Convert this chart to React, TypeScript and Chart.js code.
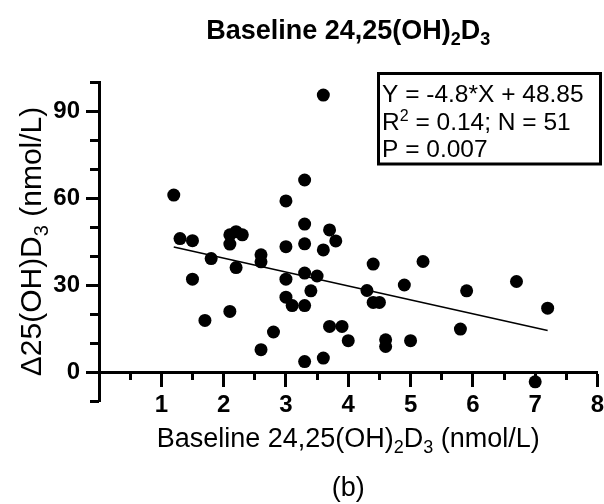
import React, { useEffect, useRef } from "react";
import { Chart, registerables } from "chart.js";

Chart.register(...registerables);

// ---- Data ----
const xValues = [
  1.2, 1.3, 1.5, 1.5, 1.7, 1.8, 2.1, 2.2, 2.3, 2.1, 2.1, 2.2, 2.6, 2.6, 2.6, 2.8,
  3.0, 3.0, 3.0, 3.0, 3.1, 3.3, 3.3, 3.3, 3.3, 3.3, 3.3, 3.4, 3.5, 3.6, 3.6, 3.6,
  3.7, 3.8, 3.7, 3.9, 4.0, 4.3, 4.4, 4.4, 4.5, 4.6, 4.6, 4.9, 5.0, 5.2, 5.8, 5.9,
  6.7, 7.0, 7.2,
];
const yValues = [
  61, 46, 45.3, 32, 17.8, 39.1, 47.3, 48.4, 47.3, 44.1, 20.9, 36, 40.4, 38, 7.7, 13.8,
  59, 43.2, 32, 25.8, 22.9, 66.2, 51, 44.2, 34.1, 22.9, 3.6, 28, 33.1, 95.5, 42.1, 4.8,
  49, 45.2, 15.7, 15.7, 10.8, 28.1, 37.2, 24, 24, 11.1, 8.8, 30, 10.8, 38.1, 14.8, 28,
  31.2, -3.4, 22,
];
const fitX = [1.2, 7.2];
const fitY = [43.1, 14.3];

const xMajorTicks = [1, 2, 3, 4, 5, 6, 7, 8];
const xMinorTicks = [0.5, 1.5, 2.5, 3.5, 4.5, 5.5, 6.5, 7.5];
const yMajorTicks = [0, 30, 60, 90];
const yMinorTicks = [-10, 10, 20, 40, 50, 70, 80, 100];

const FONT = '"Liberation Sans", Arial, sans-serif';

type Run = { t: string; size: number; weight?: string; dy?: number };

const titleRuns: Run[] = [
  { t: "Baseline 24,25(OH)", size: 27, weight: "bold" },
  { t: "2", size: 18, weight: "bold", dy: 6 },
  { t: "D", size: 27, weight: "bold" },
  { t: "3", size: 18, weight: "bold", dy: 6 },
];
const xTitleRuns: Run[] = [
  { t: "Baseline 24,25(OH)", size: 27 },
  { t: "2", size: 18, dy: 6 },
  { t: "D", size: 27 },
  { t: "3", size: 18, dy: 6 },
  { t: " (nmol/L)", size: 27 },
];
const yTitleRuns: Run[] = [
  { t: "Δ25(OH)D", size: 30 },
  { t: "3", size: 20, dy: 7 },
  { t: " (nmol/L)", size: 30 },
];
const captionRuns: Run[] = [{ t: "(b)", size: 27 }];
const statLines: Run[][] = [
  [{ t: "Y = -4.8*X + 48.85", size: 24.5 }],
  [
    { t: "R", size: 24.5 },
    { t: "2", size: 16, dy: -9 },
    { t: " = 0.14; N = 51", size: 24.5 },
  ],
  [{ t: "P = 0.007", size: 24.5 }],
];

function setFont(ctx: CanvasRenderingContext2D, r: Run) {
  ctx.font = `${r.weight || "normal"} ${r.size}px ${FONT}`;
}
function runsWidth(ctx: CanvasRenderingContext2D, runs: Run[]) {
  let w = 0;
  for (const r of runs) {
    setFont(ctx, r);
    w += ctx.measureText(r.t).width;
  }
  return w;
}
function drawRuns(
  ctx: CanvasRenderingContext2D,
  runs: Run[],
  x: number,
  y: number,
  align: "left" | "center"
) {
  const w = runsWidth(ctx, runs);
  let cx = align === "center" ? x - w / 2 : x;
  ctx.textAlign = "left";
  ctx.textBaseline = "alphabetic";
  ctx.fillStyle = "#000";
  for (const r of runs) {
    setFont(ctx, r);
    ctx.fillText(r.t, cx, y + (r.dy || 0));
    cx += ctx.measureText(r.t).width;
  }
}

const textPlugin = {
  id: "textPlugin",
  afterDraw(chart: any) {
    const ctx: CanvasRenderingContext2D = chart.ctx;
    const area = chart.chartArea;
    const cx = (area.left + area.right) / 2;
    const cy = (area.top + area.bottom) / 2;
    ctx.save();
    drawRuns(ctx, titleRuns, cx, 39, "center");
    drawRuns(ctx, xTitleRuns, cx, 447, "center");
    drawRuns(ctx, captionRuns, cx, 496, "center");
    ctx.save();
    ctx.translate(41, cy);
    ctx.rotate(-Math.PI / 2);
    drawRuns(ctx, yTitleRuns, 0, 0, "center");
    ctx.restore();
    // statistics box
    ctx.lineWidth = 3;
    ctx.strokeStyle = "#000";
    ctx.strokeRect(378.5, 73.5, 222, 90.5);
    statLines.forEach((line, i) => {
      drawRuns(ctx, line, 382, 102 + i * 27.5, "left");
    });
    ctx.restore();
  },
};

export default function App() {
  const ref = useRef<HTMLCanvasElement | null>(null);
  useEffect(() => {
    if (!ref.current) return;
    const points = xValues.map((x, i) => ({ x, y: yValues[i] }));
    const fit = fitX.map((x, i) => ({ x, y: fitY[i] }));
    const tickFont = { family: FONT, size: 24, weight: "bold" as const, lineHeight: 1.2 };
    const chart = new Chart(ref.current, {
      type: "scatter",
      data: {
        datasets: [
          {
            type: "line",
            data: fit,
            borderColor: "#000",
            borderWidth: 1.6,
            pointRadius: 0,
            showLine: true,
            fill: false,
            clip: false,
            xAxisID: "x",
            yAxisID: "y",
          } as any,
          {
            type: "scatter",
            data: points,
            backgroundColor: "#000",
            borderColor: "#000",
            borderWidth: 0,
            pointRadius: 6.5,
            pointHoverRadius: 6.5,
            clip: false,
            xAxisID: "x",
            yAxisID: "y",
          } as any,
        ],
      },
      options: {
        animation: false,
        responsive: false,
        devicePixelRatio: 1,
        layout: { padding: { top: 82, bottom: 103, left: 0, right: 6 } },
        plugins: {
          legend: { display: false },
          tooltip: { enabled: false },
          title: { display: false },
        },
        scales: {
          x: {
            type: "linear",
            position: { y: 0 } as any,
            min: 0,
            max: 8,
            afterBuildTicks: (s: any) => {
              s.ticks = xMajorTicks.map((v) => ({ value: v }));
            },
            afterFit: (s: any) => {
              s.paddingLeft = 0;
              s.paddingRight = 0;
            },
            ticks: { color: "#000", font: tickFont, padding: 6, autoSkip: false, maxRotation: 0 },
            grid: { drawOnChartArea: false, drawTicks: true, tickLength: 13, tickWidth: 3, tickColor: "#000" },
            border: { display: true, color: "#000", width: 3 },
          },
          xMinor: {
            type: "linear",
            axis: "x",
            position: { y: 0 } as any,
            min: 0,
            max: 8,
            afterBuildTicks: (s: any) => {
              s.ticks = xMinorTicks.map((v) => ({ value: v }));
            },
            afterFit: (s: any) => {
              s.paddingLeft = 0;
              s.paddingRight = 0;
            },
            ticks: { display: false, autoSkip: false },
            grid: { drawOnChartArea: false, drawTicks: true, tickLength: 8, tickWidth: 3, tickColor: "#000" },
            border: { display: false },
          },
          y: {
            type: "linear",
            position: "left",
            min: -10,
            max: 100,
            afterBuildTicks: (s: any) => {
              s.ticks = yMajorTicks.map((v) => ({ value: v }));
            },
            afterFit: (s: any) => {
              s.width = 99;
              s.paddingTop = 0;
              s.paddingBottom = 0;
            },
            ticks: { color: "#000", font: tickFont, padding: 6, autoSkip: false },
            grid: { drawOnChartArea: false, drawTicks: true, tickLength: 13, tickWidth: 3, tickColor: "#000" },
            border: { display: true, color: "#000", width: 3 },
          },
          yMinor: {
            type: "linear",
            axis: "y",
            position: { x: 0 } as any,
            min: -10,
            max: 100,
            afterBuildTicks: (s: any) => {
              s.ticks = yMinorTicks.map((v) => ({ value: v }));
            },
            afterFit: (s: any) => {
              s.paddingTop = 0;
              s.paddingBottom = 0;
            },
            ticks: { display: false, autoSkip: false },
            grid: { drawOnChartArea: false, drawTicks: true, tickLength: 9, tickWidth: 3, tickColor: "#000" },
            border: { display: false },
          },
        } as any,
      },
      plugins: [textPlugin],
    });
    return () => chart.destroy();
  }, []);
  return (
    <div style={{ position: "absolute", left: 0, top: 0, width: 604, height: 504, background: "#fff" }}>
      <canvas ref={ref} width={604} height={504} />
    </div>
  );
}
